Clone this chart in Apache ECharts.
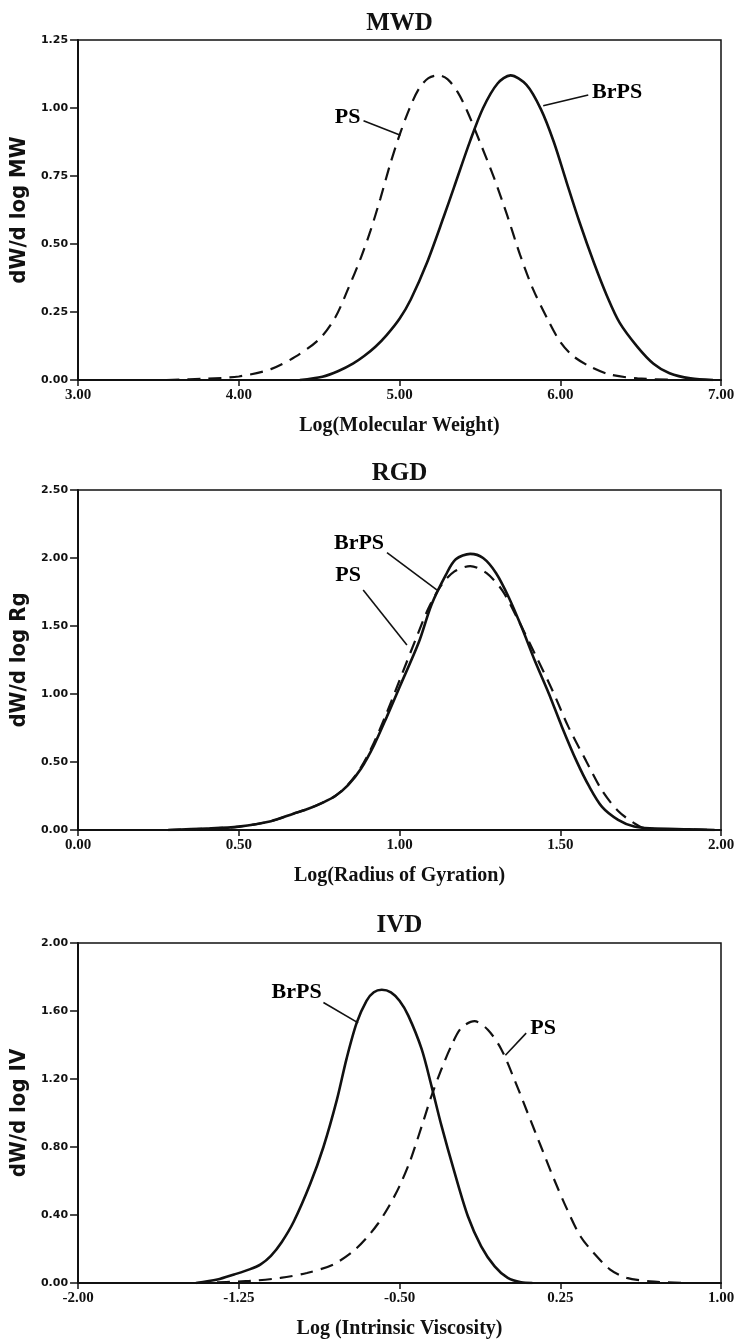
<!DOCTYPE html>
<html>
<head>
<meta charset="utf-8">
<script src="https://cdn.jsdelivr.net/npm/echarts@6/dist/echarts.min.js"></script>
<style>
html,body{margin:0;padding:0;background:#fff;}
#chart{width:739px;height:1340px;}
</style>
</head>
<body>
<div id="chart"></div>
<script>
// ---------- DATA ----------
// Panel 1: MWD
const mwdTitle = 'MWD';
const mwdXName = 'Log(Molecular Weight)';
const mwdYName = 'dW/d log MW';
const mwdXTicks = [3, 4, 5, 6, 7];
const mwdYTicks = [0, 0.25, 0.5, 0.75, 1.0, 1.25];
const mwdPsX = [3.55, 3.8, 4.0, 4.2, 4.35, 4.5, 4.6, 4.68, 4.76, 4.82, 4.88, 4.94, 5.0, 5.06, 5.12, 5.18, 5.245, 5.30, 5.36, 5.42, 5.50, 5.59, 5.67, 5.75, 5.83, 5.92, 6.0, 6.08, 6.19, 6.31, 6.48, 6.7];
const mwdPsY = [0, 0.005, 0.013, 0.04, 0.085, 0.15, 0.23, 0.335, 0.45, 0.55, 0.665, 0.79, 0.90, 0.995, 1.07, 1.11, 1.12, 1.105, 1.06, 0.99, 0.875, 0.74, 0.605, 0.46, 0.335, 0.225, 0.14, 0.088, 0.048, 0.02, 0.006, 0.001];
const mwdBrX = [4.38, 4.52, 4.62, 4.71, 4.78, 4.85, 4.92, 5.0, 5.07, 5.17, 5.275, 5.34, 5.44, 5.52, 5.61, 5.69, 5.79, 5.88, 5.96, 6.04, 6.12, 6.21, 6.29, 6.37, 6.48, 6.58, 6.68, 6.81, 6.95];
const mwdBrY = [0, 0.012, 0.033, 0.06, 0.088, 0.122, 0.165, 0.225, 0.296, 0.43, 0.6, 0.71, 0.88, 1.0, 1.09, 1.12, 1.085, 0.995, 0.875, 0.726, 0.58, 0.43, 0.31, 0.21, 0.122, 0.06, 0.025, 0.006, 0];
const mwdLabelPos = {PS: [4.677, 0.964], BrPS: [6.354, 1.059]};
const mwdLeaderPS = [[4.776, 0.953], [5.006, 0.90]];
const mwdLeaderBr = [[6.174, 1.048], [5.894, 1.008]];

// Panel 2: RGD
const rgdTitle = 'RGD';
const rgdXName = 'Log(Radius of Gyration)';
const rgdYName = 'dW/d log Rg';
const rgdXTicks = [0, 0.5, 1.0, 1.5, 2.0];
const rgdYTicks = [0, 0.5, 1.0, 1.5, 2.0, 2.5];
const rgdBrX = [0.28, 0.4, 0.5, 0.6, 0.67, 0.72, 0.76, 0.80, 0.84, 0.88, 0.92, 0.96, 1.0, 1.06, 1.10, 1.145, 1.175, 1.22, 1.26, 1.30, 1.34, 1.38, 1.42, 1.465, 1.505, 1.55, 1.59, 1.63, 1.68, 1.73, 1.78, 1.9, 1.98];
const rgdBrY = [0, 0.01, 0.025, 0.065, 0.12, 0.16, 0.20, 0.25, 0.33, 0.45, 0.62, 0.83, 1.05, 1.38, 1.66, 1.88, 1.99, 2.03, 2.0, 1.89, 1.71, 1.49, 1.25, 1.0, 0.76, 0.51, 0.32, 0.17, 0.075, 0.025, 0.012, 0.005, 0];
const rgdPsX = [0.28, 0.4, 0.5, 0.6, 0.67, 0.72, 0.76, 0.80, 0.84, 0.88, 0.92, 0.96, 1.0, 1.05, 1.09, 1.13, 1.17, 1.22, 1.27, 1.32, 1.37, 1.42, 1.475, 1.525, 1.58, 1.63, 1.68, 1.73, 1.765, 1.85, 1.98];
const rgdPsY = [0, 0.01, 0.025, 0.065, 0.12, 0.16, 0.20, 0.25, 0.335, 0.46, 0.64, 0.86, 1.10, 1.40, 1.63, 1.80, 1.90, 1.94, 1.89, 1.76, 1.54, 1.30, 1.03, 0.76, 0.51, 0.29, 0.14, 0.05, 0.012, 0.005, 0];
const rgdLabelPos = {BrPS: [0.874, 2.11], PS: [0.84, 1.87]};
const rgdLeaderBr = [[0.961, 2.04], [1.116, 1.765]];
const rgdLeaderPS = [[0.887, 1.765], [1.023, 1.36]];

// Panel 3: IVD
const ivdTitle = 'IVD';
const ivdXName = 'Log (Intrinsic Viscosity)';
const ivdYName = 'dW/d log IV';
const ivdXTicks = [-2.0, -1.25, -0.5, 0.25, 1.0];
const ivdYTicks = [0, 0.4, 0.8, 1.2, 1.6, 2.0];
const ivdBrX = [-1.45, -1.35, -1.272, -1.2, -1.148, -1.1, -1.05, -0.994, -0.917, -0.855, -0.793, -0.747, -0.70, -0.654, -0.62, -0.583, -0.54, -0.50, -0.459, -0.397, -0.351, -0.304, -0.243, -0.181, -0.119, -0.056, 0.005, 0.067, 0.12];
const ivdBrY = [0, 0.02, 0.05, 0.08, 0.11, 0.16, 0.24, 0.36, 0.582, 0.80, 1.074, 1.32, 1.53, 1.66, 1.71, 1.725, 1.71, 1.66, 1.573, 1.377, 1.16, 0.924, 0.649, 0.393, 0.216, 0.098, 0.03, 0.004, 0];
const ivdPsX = [-1.45, -1.2, -1.056, -0.932, -0.809, -0.716, -0.654, -0.6, -0.55, -0.5, -0.45, -0.397, -0.351, -0.304, -0.258, -0.212, -0.15, -0.088, -0.026, 0.035, 0.097, 0.159, 0.221, 0.282, 0.344, 0.406, 0.483, 0.56, 0.668, 0.82];
const ivdPsY = [0, 0.012, 0.03, 0.059, 0.109, 0.187, 0.265, 0.35, 0.45, 0.57, 0.72, 0.92, 1.10, 1.259, 1.396, 1.50, 1.54, 1.49, 1.377, 1.2, 1.003, 0.806, 0.61, 0.433, 0.275, 0.177, 0.079, 0.03, 0.01, 0];
const ivdLabelPos = {BrPS: [-0.98, 1.71], PS: [0.17, 1.50]};
const ivdLeaderBr = [[-0.855, 1.65], [-0.693, 1.53]];
const ivdLeaderPS = [[0.091, 1.47], [-0.006, 1.34]];

// ---------- BUILD ----------
const panels = [
  {title: mwdTitle, xName: mwdXName, yName: mwdYName, xT: mwdXTicks, yT: mwdYTicks,
   brX: mwdBrX, brY: mwdBrY, psX: mwdPsX, psY: mwdPsY, lab: mwdLabelPos, leaders: [mwdLeaderPS, mwdLeaderBr]},
  {title: rgdTitle, xName: rgdXName, yName: rgdYName, xT: rgdXTicks, yT: rgdYTicks,
   brX: rgdBrX, brY: rgdBrY, psX: rgdPsX, psY: rgdPsY, lab: rgdLabelPos, leaders: [rgdLeaderBr, rgdLeaderPS]},
  {title: ivdTitle, xName: ivdXName, yName: ivdYName, xT: ivdXTicks, yT: ivdYTicks,
   brX: ivdBrX, brY: ivdBrY, psX: ivdPsX, psY: ivdPsY, lab: ivdLabelPos, leaders: [ivdLeaderBr, ivdLeaderPS]}
];

const gridTops = [40, 490, 943];
const gridH = 340;
const gridLeft = 76;
const gridRight = 18;
const titleY = [24, 474, 926];

const serif = '"Liberation Serif","Times New Roman",serif';
const condSans = '"Liberation Sans Narrow","DejaVu Sans Condensed","Liberation Sans",sans-serif';
const INK = '#111';

const pairs = (xs, ys) => xs.map((x, i) => [x, ys[i]]);

const grids = [], xAxes = [], yAxes = [], series = [], graphics = [];

panels.forEach((p, i) => {
  grids.push({left: gridLeft, right: gridRight, top: gridTops[i], height: gridH,
    show: true, borderColor: INK, borderWidth: 1.5, backgroundColor: 'transparent', containLabel: false});
  const xStep = p.xT[1] - p.xT[0];
  const yStep = p.yT[1] - p.yT[0];
  xAxes.push({gridIndex: i, type: 'value', min: p.xT[0], max: p.xT[p.xT.length - 1], interval: xStep,
    axisLine: {show: true, onZero: false, lineStyle: {color: INK, width: 2}},
    axisTick: {show: true, length: 6, lineStyle: {color: INK, width: 1.5}},
    axisLabel: {color: INK, fontFamily: serif, fontWeight: 'bold', fontSize: 15, margin: 8,
      showMinLabel: true, showMaxLabel: true, formatter: v => v.toFixed(2)},
    splitLine: {show: false},
    name: p.xName, nameLocation: 'middle', nameGap: 36,
    nameTextStyle: {color: INK, fontFamily: serif, fontWeight: 'bold', fontSize: 20}
  });
  yAxes.push({gridIndex: i, type: 'value', min: p.yT[0], max: p.yT[p.yT.length - 1], interval: yStep,
    axisLine: {show: true, onZero: false, lineStyle: {color: INK, width: 2}},
    axisTick: {show: true, length: 8, lineStyle: {color: INK, width: 1.5}},
    axisLabel: {color: INK, fontFamily: '"DejaVu Sans",sans-serif', fontWeight: 'bold', fontSize: 11, margin: 10,
      showMinLabel: true, showMaxLabel: true, formatter: v => v.toFixed(2)},
    splitLine: {show: false},
    name: p.yName, nameLocation: 'middle', nameGap: 40, nameRotate: 90,
    nameTextStyle: {color: INK, fontFamily: condSans, fontWeight: 'bold', fontSize: 22}
  });
  series.push({type: 'line', name: 'BrPS', xAxisIndex: i, yAxisIndex: i, data: pairs(p.brX, p.brY),
    showSymbol: false, symbol: 'none', smooth: 0.3, lineStyle: {color: INK, width: 2.6, type: 'solid'}, z: 3});
  series.push({type: 'line', name: 'PS', xAxisIndex: i, yAxisIndex: i, data: pairs(p.psX, p.psY),
    showSymbol: false, symbol: 'none', smooth: 0.3, lineStyle: {color: INK, width: 2.2, type: [13, 8]}, z: 3});
  p.leaders.forEach(L => {
    series.push({type: 'line', xAxisIndex: i, yAxisIndex: i, data: L, symbol: 'none', showSymbol: false,
      lineStyle: {color: INK, width: 1.6}, z: 4, silent: true});
  });
  series.push({type: 'scatter', xAxisIndex: i, yAxisIndex: i, symbolSize: 0, silent: true,
    itemStyle: {opacity: 1, color: INK},
    data: Object.keys(p.lab).map(k => ({name: k, value: p.lab[k]})),
    label: {show: true, position: 'inside', formatter: d => d.name, color: '#000', opacity: 1,
      textBorderWidth: 0, fontFamily: serif, fontWeight: 'bold', fontSize: 22}, z: 5});
  graphics.push({type: 'text', x: gridLeft + (739 - gridLeft - gridRight) / 2 + 1, y: titleY[i],
    style: {text: p.title, font: 'bold 25px ' + serif, fill: INK, textAlign: 'center', textVerticalAlign: 'middle'}});
});

const chart = echarts.init(document.getElementById('chart'), null, {renderer: 'canvas'});
chart.setOption({
  backgroundColor: '#fff',
  animation: false,
  grid: grids,
  xAxis: xAxes,
  yAxis: yAxes,
  series: series,
  graphic: graphics
});
</script>
</body>
</html>
